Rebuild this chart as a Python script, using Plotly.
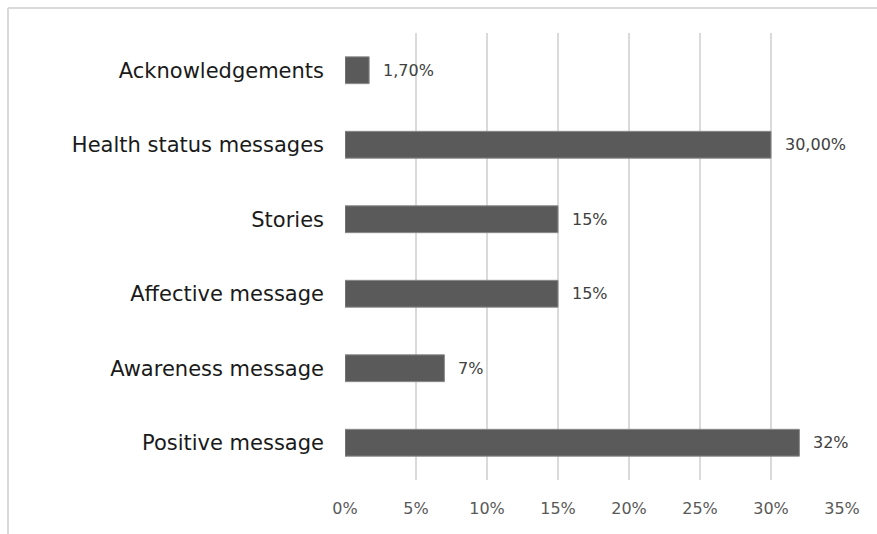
import plotly.graph_objects as go

# Message categories (top to bottom) and their shares in percent
categories = [
    "Acknowledgements",
    "Health status messages",
    "Stories",
    "Affective message",
    "Awareness message",
    "Positive message",
]
shares = [1.7, 30.0, 15.0, 15.0, 7.0, 32.0]
share_labels = ["1,70%", "30,00%", "15%", "15%", "7%", "32%"]

tick_values = [0, 5, 10, 15, 20, 25, 30, 35]
tick_labels = ["0%", "5%", "10%", "15%", "20%", "25%", "30%", "35%"]

W, H = 877, 534
L, R, T, B = 345, 35, 33, 54
plot_w = W - L - R
plot_h = H - T - B

fig = go.Figure()
fig.add_trace(
    go.Bar(
        y=categories,
        x=shares,
        orientation="h",
        width=0.36,
        marker=dict(color="#5a5a5a", line=dict(color="#8a8a8a", width=1)),
        hoverinfo="skip",
    )
)

# Value labels placed just right of each bar end
for cat, val, lab in zip(categories, shares, share_labels):
    fig.add_annotation(
        x=val, y=cat, xref="x", yref="y",
        text=lab, showarrow=False,
        xanchor="left", yanchor="middle", xshift=12,
        font=dict(family="DejaVu Sans", size=16, color="#404040"),
    )

# Light frame along the top and left edges of the chart area
def px_to_paper_x(px):
    return (px - L) / plot_w

def px_to_paper_y(py):
    return (H - B - py) / plot_h

frame_style = dict(color="#d9d9d9", width=2)
fig.add_shape(type="line", xref="paper", yref="paper",
              x0=px_to_paper_x(8), x1=px_to_paper_x(W + 2),
              y0=px_to_paper_y(8), y1=px_to_paper_y(8), line=frame_style)
fig.add_shape(type="line", xref="paper", yref="paper",
              x0=px_to_paper_x(8), x1=px_to_paper_x(8),
              y0=px_to_paper_y(8), y1=px_to_paper_y(H + 2), line=frame_style)

fig.update_layout(
    width=W, height=H,
    margin=dict(l=L, r=R, t=T, b=B),
    paper_bgcolor="white",
    plot_bgcolor="white",
    showlegend=False,
)
fig.update_xaxes(
    range=[0, 35],
    tickvals=tick_values,
    ticktext=tick_labels,
    showgrid=True,
    gridcolor="#dadada",
    gridwidth=1.5,
    zeroline=False,
    showline=False,
    ticks="",
    tickfont=dict(family="DejaVu Sans", size=16, color="#595959"),
    ticklabelstandoff=17,
    fixedrange=True,
)
fig.update_yaxes(
    autorange="reversed",
    showgrid=False,
    zeroline=False,
    showline=False,
    ticks="",
    tickfont=dict(family="DejaVu Sans", size=21, color="#1a1a1a"),
    ticklabelstandoff=20,
    fixedrange=True,
)

fig.write_html("out.html")
